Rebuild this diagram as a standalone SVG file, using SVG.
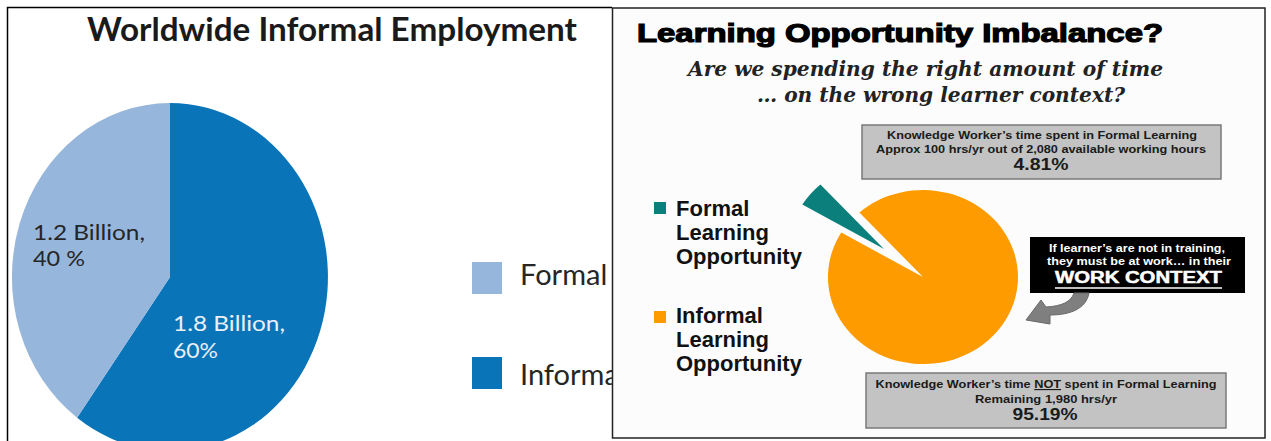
<svg xmlns="http://www.w3.org/2000/svg" width="1271" height="441" viewBox="0 0 1271 441">
<style>
.cal{font-family:Lato,"Open Sans","Liberation Sans",sans-serif;}
.ar{font-family:"Liberation Sans",Arial,sans-serif;font-weight:bold;}
.leg{font-family:"Liberation Sans",Arial,sans-serif;font-weight:bold;font-size:22px;fill:#111;}
.box{fill:#c3c3c3;stroke:#7a7a7a;stroke-width:1.5;}
.bt{font-family:"Liberation Sans",Arial,sans-serif;font-weight:bold;font-size:11.5px;fill:#1a1a1a;text-anchor:middle;}
.pc{font-family:"Liberation Sans",Arial,sans-serif;font-weight:bold;font-size:16px;fill:#1a1a1a;text-anchor:middle;}
.sub{font-family:"DejaVu Serif","Liberation Serif",serif;font-weight:bold;font-style:italic;font-size:21px;fill:#222;}
.lbl{font-family:Lato,"Open Sans","Liberation Sans",sans-serif;font-size:22px;}
</style>
<rect x="0" y="0" width="1271" height="441" fill="#ffffff"/>
<g id="left-panel">
  <path d="M7.5,441 L7.5,7.5 L612,7.5" fill="none" stroke="#000" stroke-width="1.5"/>
  <text class="cal" x="87" y="41" font-size="32" font-weight="bold" fill="#1a1a1a" textLength="490" lengthAdjust="spacingAndGlyphs">Worldwide Informal Employment</text>
  <g id="pie-left">
    <path d="M170,277 L170,103 A158,174 0 1 1 77.1,417.8 Z" fill="#0a74b9"/>
    <path d="M170,277 L77.1,417.8 A158,174 0 0 1 170,103 Z" fill="#97b6db"/>
    <text class="lbl" x="33" y="240" fill="#262626" textLength="112" lengthAdjust="spacingAndGlyphs">1.2 Billion,</text>
    <text class="lbl" x="33" y="266" fill="#262626" textLength="52" lengthAdjust="spacingAndGlyphs">40 %</text>
    <text class="lbl" x="173" y="331" fill="#e9f0f8" textLength="112" lengthAdjust="spacingAndGlyphs">1.8 Billion,</text>
    <text class="lbl" x="173" y="358" fill="#e9f0f8" textLength="45" lengthAdjust="spacingAndGlyphs">60%</text>
  </g>
  <g id="legend-left">
    <rect x="472" y="262" width="30" height="32" fill="#97b6db"/>
    <text class="cal" x="520" y="285" font-size="29" fill="#262626">Formal</text>
    <rect x="472" y="357" width="30" height="32" fill="#0a74b9"/>
    <text class="cal" x="520" y="385" font-size="29" fill="#262626">Informal</text>
  </g>
</g>
<g id="right-panel">
  <rect x="612.5" y="8" width="652.5" height="430" fill="#fcfcfc" stroke="#222" stroke-width="1.5"/>
  <text class="ar" x="637" y="42" font-size="25" fill="#000" stroke="#000" stroke-width="1.2" textLength="526" lengthAdjust="spacingAndGlyphs">Learning Opportunity Imbalance?</text>
  <text class="sub" x="688" y="76" textLength="475" lengthAdjust="spacingAndGlyphs">Are we spending the right amount of time</text>
  <text class="sub" x="757" y="102" textLength="368" lengthAdjust="spacingAndGlyphs">… on the wrong learner context?</text>
  <g id="legend-formal">
    <rect x="654" y="202" width="12" height="12" fill="#0b7f7b"/>
    <text class="leg" x="676" y="216">Formal</text>
    <text class="leg" x="676" y="240">Learning</text>
    <text class="leg" x="676" y="264">Opportunity</text>
  </g>
  <g id="legend-informal">
    <rect x="654" y="311" width="12" height="12" fill="#fd9b00"/>
    <text class="leg" x="676" y="323">Informal</text>
    <text class="leg" x="676" y="347">Learning</text>
    <text class="leg" x="676" y="371">Opportunity</text>
  </g>
  <g id="pie-right">
    <path d="M923,277 L859.4,212.4 A95,87 0 1 1 841.3,232.6 Z" fill="#fd9b00"/>
    <path d="M884,249 L802.3,204.6 A95,87 0 0 1 820.4,184.4 Z" fill="#0b7f7b"/>
  </g>
  <g id="box-formal">
    <rect class="box" x="862" y="125" width="359" height="54"/>
    <text class="bt" x="1042" y="139" textLength="310" lengthAdjust="spacingAndGlyphs">Knowledge Worker’s time spent in Formal Learning</text>
    <text class="bt" x="1041" y="153" textLength="330" lengthAdjust="spacingAndGlyphs">Approx 100 hrs/yr out of 2,080 available working hours</text>
    <text class="pc" x="1041" y="170" textLength="55" lengthAdjust="spacingAndGlyphs">4.81%</text>
  </g>
  <g id="box-work">
    <rect x="1030" y="237" width="215" height="56" fill="#000"/>
    <text class="bt" x="1137" y="252" style="fill:#fff" textLength="176" lengthAdjust="spacingAndGlyphs">If learner’s are not in training,</text>
    <text class="bt" x="1139" y="265" style="fill:#fff" textLength="184" lengthAdjust="spacingAndGlyphs">they must be at work… in their</text>
    <text class="ar" x="1138.5" y="283" font-size="16" fill="#fff" text-anchor="middle" stroke="#fff" stroke-width="0.5" textLength="167" lengthAdjust="spacingAndGlyphs">WORK CONTEXT</text>
    <line x1="1055" y1="288" x2="1222" y2="288" stroke="#fff" stroke-width="1.5"/>
  </g>
  <g id="box-informal">
    <rect class="box" x="866" y="373" width="360" height="55"/>
    <text class="bt" x="1046" y="388" textLength="341" lengthAdjust="spacingAndGlyphs">Knowledge Worker’s time <tspan text-decoration="underline">NOT</tspan> spent in Formal Learning</text>
    <text class="bt" x="1046" y="403" textLength="142" lengthAdjust="spacingAndGlyphs">Remaining 1,980 hrs/yr</text>
    <text class="pc" x="1045" y="420" textLength="65" lengthAdjust="spacingAndGlyphs">95.19%</text>
  </g>
  <g id="connectors">
    <path d="M1074,293 L1089,293 C1086,309 1070,315 1050,315 L1050,324 L1026,320 L1041,300 L1046,307 C1062,306 1071,302 1074,293 Z" fill="#7f7f7f" stroke="#6a6a6a" stroke-width="1"/>
  </g>
</g>
</svg>
